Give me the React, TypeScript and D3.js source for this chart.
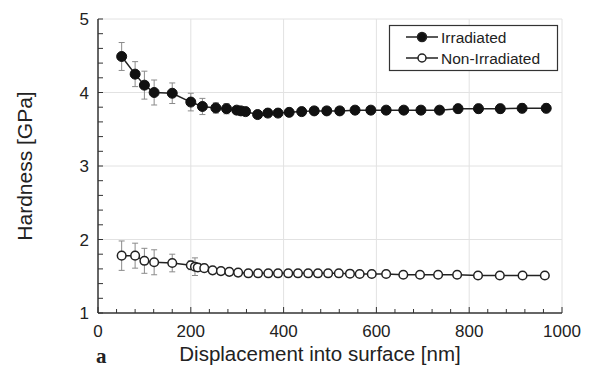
import React from "react";
import * as d3 from "d3";

const irrX = [51, 80, 100, 121, 160, 200, 225, 254, 277, 299, 308, 318, 344, 366, 388, 412, 439, 466, 493, 521, 554, 588, 621, 659, 696, 736, 776, 820, 867, 914, 966];
const irrY = [4.49, 4.25, 4.1, 4.0, 3.99, 3.87, 3.81, 3.79, 3.78, 3.76, 3.75, 3.74, 3.7, 3.72, 3.72, 3.73, 3.74, 3.75, 3.75, 3.75, 3.76, 3.76, 3.76, 3.76, 3.76, 3.76, 3.78, 3.78, 3.78, 3.785, 3.785];
const irrErr = [0.19, 0.17, 0.19, 0.17, 0.14, 0.12, 0.11, 0.07, 0.07, 0.05, 0.05, 0.05, 0.05, 0.05, 0.05, 0.05, 0.05, 0.05, 0.05, 0.05, 0.05, 0.05, 0.05, 0.05, 0.05, 0.05, 0.06, 0.06, 0.06, 0.06, 0.06];

const nonX = [51, 80, 100, 121, 160, 200, 209, 215, 229, 247, 265, 283, 302, 324, 345, 367, 388, 410, 431, 453, 474, 496, 519, 543, 564, 590, 621, 658, 694, 733, 774, 819, 866, 915, 963];
const nonY = [1.78, 1.78, 1.71, 1.69, 1.68, 1.65, 1.63, 1.62, 1.61, 1.58, 1.57, 1.56, 1.55, 1.54, 1.54, 1.54, 1.54, 1.54, 1.54, 1.54, 1.54, 1.54, 1.54, 1.535, 1.53, 1.53, 1.53, 1.52, 1.52, 1.52, 1.52, 1.51, 1.51, 1.51, 1.51];
const nonErr = [0.2, 0.17, 0.17, 0.17, 0.12, 0.06, 0.12, 0.05, 0.04, 0.03, 0.03, 0.03, 0.03, 0.03, 0.03, 0.03, 0.03, 0.03, 0.03, 0.03, 0.03, 0.03, 0.03, 0.03, 0.03, 0.03, 0.03, 0.03, 0.03, 0.03, 0.03, 0.03, 0.03, 0.03, 0.03];

const xTicks = [0, 200, 400, 600, 800, 1000];
const yTicks = [1, 2, 3, 4, 5];
const seriesNames = ["Irradiated", "Non-Irradiated"];

const W = 594, H = 385;
const left = 98, right = 562, top = 19, bottom = 313;
const FONT = "Liberation Sans, Arial, sans-serif";

export default function App() {
  const x = d3.scaleLinear().domain([0, 1000]).range([left, right]);
  const y = d3.scaleLinear().domain([1, 5]).range([bottom, top]);
  const line = d3.line<[number, number]>().x(d => x(d[0])).y(d => y(d[1]));
  const irr: [number, number][] = irrX.map((v, i) => [v, irrY[i]]);
  const non: [number, number][] = nonX.map((v, i) => [v, nonY[i]]);
  const xMinor = d3.range(0, 1001, 40);
  const yMinor = d3.range(1, 5.001, 0.2);

  const errBars = (xs: number[], ys: number[], es: number[], key: string) =>
    xs.map((xv, i) => {
      const cx = x(xv), y1 = y(ys[i] + es[i]), y2 = y(ys[i] - es[i]);
      return (
        <g key={key + i} stroke="#8a8a8a" strokeWidth={1}>
          <line x1={cx} x2={cx} y1={y1} y2={y2} />
          <line x1={cx - 3} x2={cx + 3} y1={y1} y2={y1} />
          <line x1={cx - 3} x2={cx + 3} y1={y2} y2={y2} />
        </g>
      );
    });

  return (
    <svg width={W} height={H} style={{ position: "absolute", left: 0, top: 0, background: "#fff" }} fontFamily={FONT}>
      <rect width={W} height={H} fill="#fff" />
      {yTicks.slice(1).map(t => (
        <line key={"gy" + t} x1={left} x2={right} y1={y(t)} y2={y(t)} stroke="#e2e2e2" strokeWidth={1} />
      ))}
      {xTicks.slice(1).map(t => (
        <line key={"gx" + t} x1={x(t)} x2={x(t)} y1={top} y2={bottom} stroke="#e2e2e2" strokeWidth={1} />
      ))}
      {xMinor.map(t => (
        <line key={"xm" + t} x1={x(t)} x2={x(t)} y1={bottom} y2={bottom - (t % 200 === 0 ? 6 : 4)} stroke="#333" strokeWidth={1} />
      ))}
      {yMinor.map(t => (
        <line key={"ym" + t} x1={left} x2={left + 5} y1={y(t)} y2={y(t)} stroke="#333" strokeWidth={1} />
      ))}
      <line x1={left} x2={left} y1={top} y2={bottom} stroke="#333" strokeWidth={1.5} />
      <line x1={left} x2={right} y1={bottom} y2={bottom} stroke="#333" strokeWidth={1.5} />
      {xTicks.map(t => (
        <text key={"xl" + t} x={x(t)} y={337} textAnchor="middle" fontSize={17} fill="#222">{t}</text>
      ))}
      {yTicks.map(t => (
        <text key={"yl" + t} x={89} y={y(t) + 6} textAnchor="end" fontSize={17} fill="#222">{t}</text>
      ))}
      <text x={(left + right) / 2 - 10} y={361} textAnchor="middle" fontSize={20.5} fill="#222">Displacement into surface [nm]</text>
      <text transform={`translate(32,${(top + bottom) / 2}) rotate(-90)`} textAnchor="middle" fontSize={21} fill="#222">Hardness [GPa]</text>
      <text x={96} y={363} fontSize={21} fontWeight="bold" fontFamily="Liberation Serif, Times New Roman, serif" fill="#222">a</text>
      {errBars(irrX, irrY, irrErr, "ei")}
      {errBars(nonX, nonY, nonErr, "en")}
      <path d={line(irr) || ""} fill="none" stroke="#222" strokeWidth={1.5} />
      <path d={line(non) || ""} fill="none" stroke="#222" strokeWidth={1.5} />
      {irr.map((d, i) => (
        <circle key={"mi" + i} cx={x(d[0])} cy={y(d[1])} r={5} fill="#111" stroke="#111" strokeWidth={1} />
      ))}
      {non.map((d, i) => (
        <circle key={"mn" + i} cx={x(d[0])} cy={y(d[1])} r={4.3} fill="#fff" stroke="#222" strokeWidth={1.5} />
      ))}
      <rect x={389.5} y={25.5} width={168} height={45} fill="#fff" stroke="#333" strokeWidth={1.2} />
      {seriesNames.map((name, i) => {
        const ly = 37 + i * 21;
        return (
          <g key={"lg" + i}>
            <line x1={406} x2={438} y1={ly} y2={ly} stroke="#222" strokeWidth={1.5} />
            <circle cx={422} cy={ly} r={i === 0 ? 4.5 : 4} fill={i === 0 ? "#111" : "#fff"} stroke="#222" strokeWidth={1.5} />
            <text x={441} y={ly + 5.5} fontSize={15.5} fill="#222">{name}</text>
          </g>
        );
      })}
    </svg>
  );
}
